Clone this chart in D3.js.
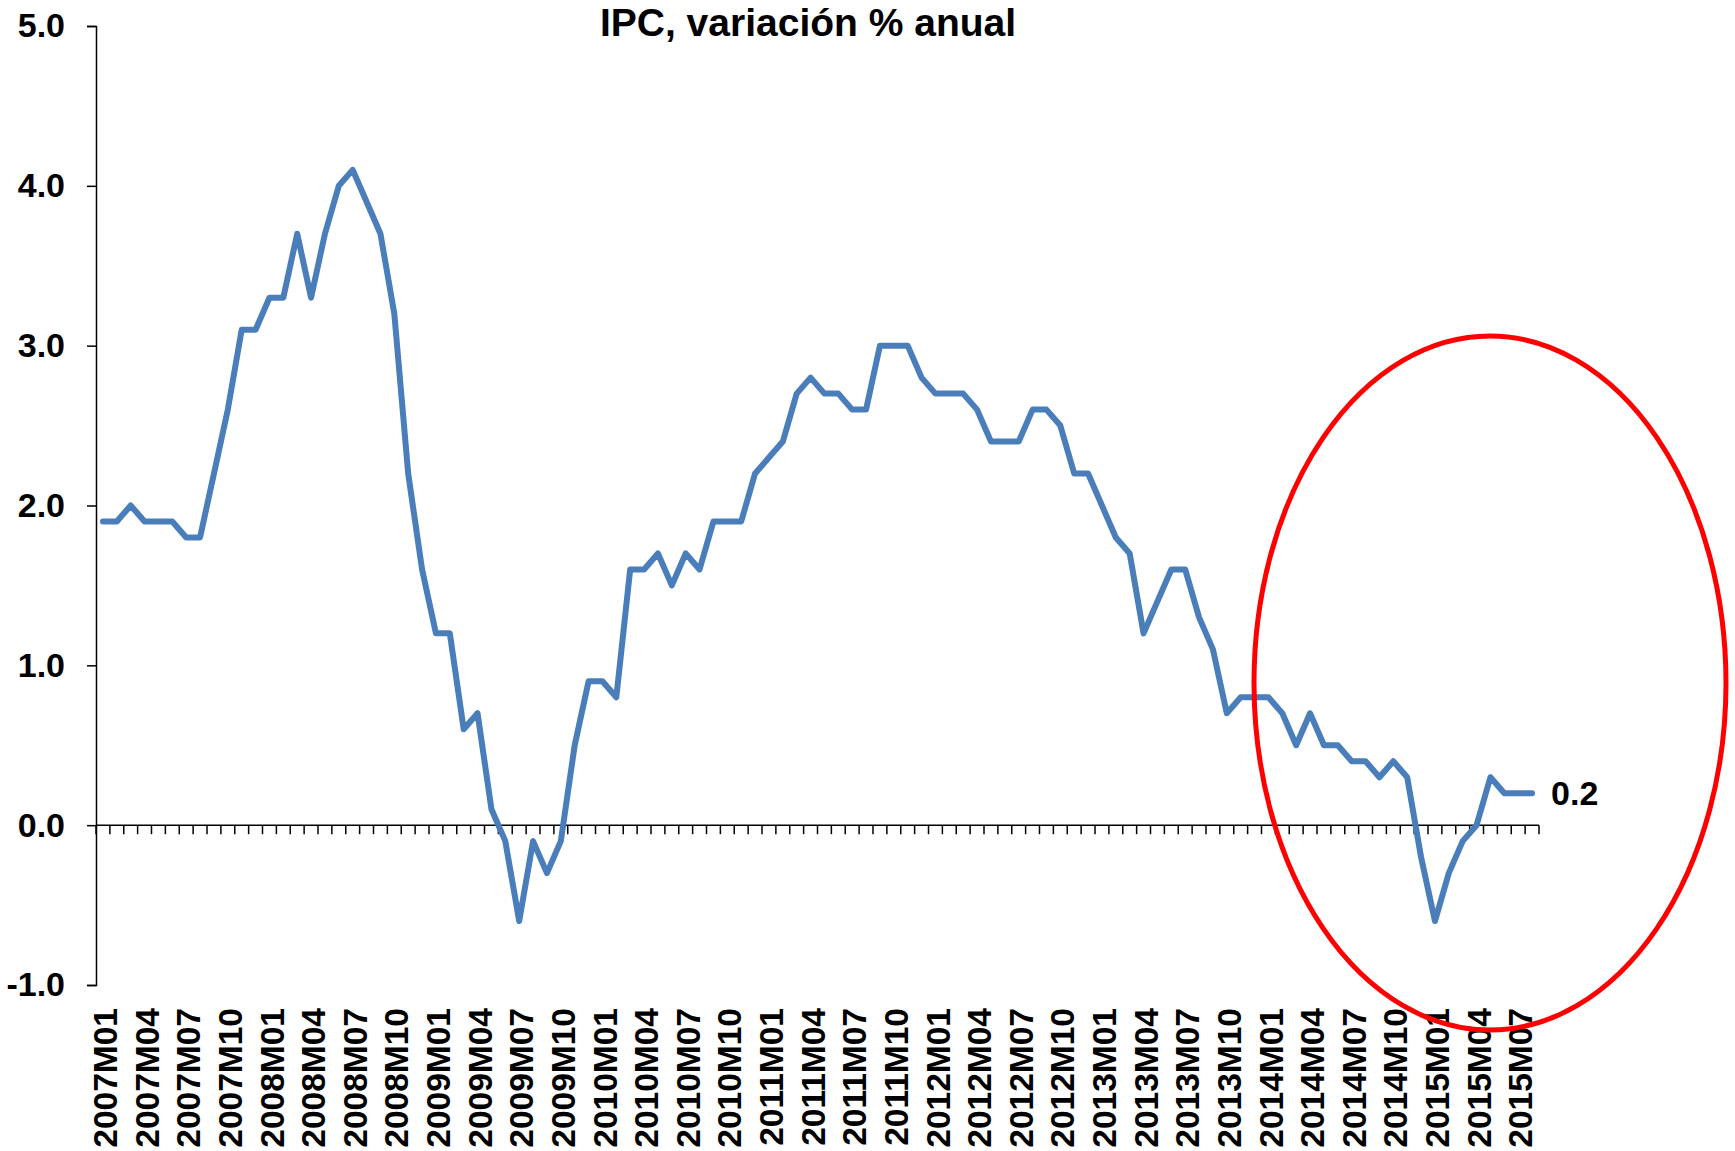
<!DOCTYPE html>
<html>
<head>
<meta charset="utf-8">
<script src="https://cdn.jsdelivr.net/npm/d3@7"></script>
<style>
  body { margin: 0; background: #fff; }
  text { font-family: "Liberation Sans", Arial, sans-serif; font-weight: bold; fill: #000; }
</style>
</head>
<body>
<svg id="chart" width="1735" height="1151"></svg>
<script>
// IPC zona euro, variación % anual, 2007M01 - 2015M08
const years = [2007, 2008, 2009, 2010, 2011, 2012, 2013, 2014, 2015];
const monthCodes = ["M01","M02","M03","M04","M05","M06","M07","M08","M09","M10","M11","M12"];

const ipc2007 = [1.9, 1.9, 2.0, 1.9, 1.9, 1.9, 1.8, 1.8, 2.2, 2.6, 3.1, 3.1];
const ipc2008 = [3.3, 3.3, 3.7, 3.3, 3.7, 4.0, 4.1, 3.9, 3.7, 3.2, 2.2, 1.6];
const ipc2009 = [1.2, 1.2, 0.6, 0.7, 0.1, -0.1, -0.6, -0.1, -0.3, -0.1, 0.5, 0.9];
const ipc2010 = [0.9, 0.8, 1.6, 1.6, 1.7, 1.5, 1.7, 1.6, 1.9, 1.9, 1.9, 2.2];
const ipc2011 = [2.3, 2.4, 2.7, 2.8, 2.7, 2.7, 2.6, 2.6, 3.0, 3.0, 3.0, 2.8];
const ipc2012 = [2.7, 2.7, 2.7, 2.6, 2.4, 2.4, 2.4, 2.6, 2.6, 2.5, 2.2, 2.2];
const ipc2013 = [2.0, 1.8, 1.7, 1.2, 1.4, 1.6, 1.6, 1.3, 1.1, 0.7, 0.8, 0.8];
const ipc2014 = [0.8, 0.7, 0.5, 0.7, 0.5, 0.5, 0.4, 0.4, 0.3, 0.4, 0.3, -0.2];
const ipc2015 = [-0.6, -0.3, -0.1, 0.0, 0.3, 0.2, 0.2, 0.2];

const yTicks = [-1, 0, 1, 2, 3, 4, 5];
const title = "IPC, variación % anual";

const values = [].concat(ipc2007, ipc2008, ipc2009, ipc2010, ipc2011, ipc2012, ipc2013, ipc2014, ipc2015);
const categories = [];
years.forEach(y => monthCodes.forEach(m => categories.push(y + m)));
categories.length = values.length;
const data = categories.map((c, i) => ({ cat: c, value: values[i] }));
// every third month gets a label
const labelCats = categories.filter((c, i) => i % 3 === 0);

const svg = d3.select("#chart");
const blue = "#4a7ebb";
const fmt = d => d.toFixed(1);  // plain hyphen for negatives, like the original

const x = d3.scaleBand()
    .domain(categories)
    .range([96, 1539])
    .padding(0);

const y = d3.scaleLinear()
    .domain([-1, 5])
    .range([985, 26]);

const cx = c => x(c) + x.bandwidth() / 2;

// y axis
const yAxis = svg.append("g")
    .attr("transform", "translate(96,0)")
    .call(d3.axisLeft(y).tickValues(yTicks).tickFormat(fmt).tickSize(9).tickPadding(22));
yAxis.select(".domain").attr("stroke", "#000").attr("stroke-width", 1.5);
yAxis.selectAll(".tick line").attr("stroke", "#000").attr("stroke-width", 1.5);
yAxis.selectAll(".tick text")
    .style("font-size", "34px")
    .attr("fill", "#000");

// x axis along zero, ticks between categories
const xAxisG = svg.append("g");
xAxisG.append("line")
    .attr("x1", x.range()[0]).attr("x2", x.range()[1])
    .attr("y1", y(0)).attr("y2", y(0))
    .attr("stroke", "#000").attr("stroke-width", 1.5);
xAxisG.selectAll("line.tick")
    .data(categories.map(c => x(c)).concat([x.range()[1]]))
    .enter()
    .append("line")
    .attr("class", "tick")
    .attr("x1", d => d).attr("x2", d => d)
    .attr("y1", y(0)).attr("y2", y(0) + 9)
    .attr("stroke", "#000").attr("stroke-width", 1.5);

// category labels, rotated, under the plot
svg.append("g").selectAll("text")
    .data(labelCats)
    .enter()
    .append("text")
    .attr("transform", d => `translate(${cx(d) + 2}, 1008) rotate(-90)`)
    .attr("text-anchor", "end")
    .attr("dy", "0.36em")
    .style("font-size", "33.5px")
    .text(d => d);

// line
const line = d3.line()
    .x(d => cx(d.cat))
    .y(d => y(d.value));

svg.append("path")
    .datum(data)
    .attr("fill", "none")
    .attr("stroke", blue)
    .attr("stroke-width", 6)
    .attr("stroke-linejoin", "round")
    .attr("stroke-linecap", "round")
    .attr("d", line);

// last value label
const last = data[data.length - 1];
svg.append("text")
    .attr("x", cx(last.cat) + 19)
    .attr("y", y(last.value))
    .attr("dy", "0.36em")
    .style("font-size", "34px")
    .text(fmt(last.value));

// title
svg.append("text")
    .attr("x", 808)
    .attr("y", 36)
    .attr("text-anchor", "middle")
    .style("font-size", "39px")
    .text(title);

// red ellipse highlighting the recent months
svg.append("ellipse")
    .attr("cx", 1490)
    .attr("cy", 683)
    .attr("rx", 236)
    .attr("ry", 347)
    .attr("fill", "none")
    .attr("stroke", "#ff0000")
    .attr("stroke-width", 5);
</script>
</body>
</html>
